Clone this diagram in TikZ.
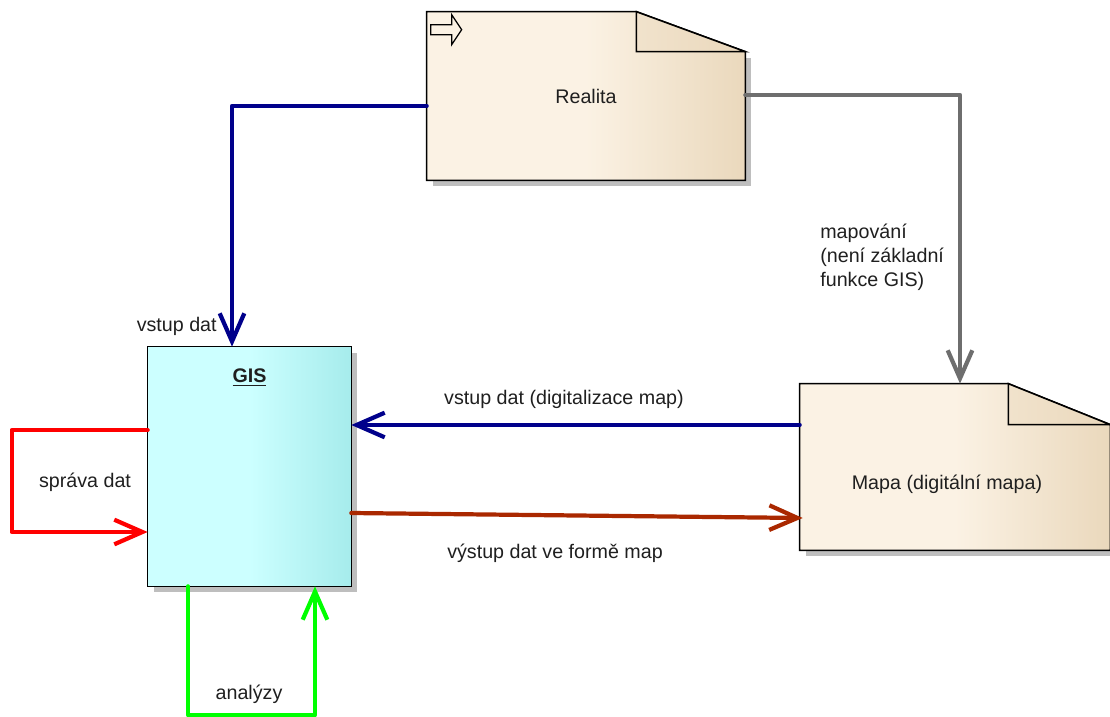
\documentclass[tikz,border=0pt]{standalone}
\usepackage{fontspec}
\setmainfont{Liberation Sans}
\usetikzlibrary{arrows.meta,positioning,calc,backgrounds}

\definecolor{navyline}{RGB}{0,0,139}
\definecolor{grayline}{RGB}{110,110,110}
\definecolor{brownline}{RGB}{170,40,0}
\definecolor{redline}{RGB}{255,0,0}
\definecolor{greenline}{RGB}{0,255,0}
\definecolor{creamleft}{RGB}{251,242,228}
\definecolor{creamright}{RGB}{234,216,188}
\definecolor{cyanleft}{RGB}{204,255,255}
\definecolor{cyanright}{RGB}{166,236,236}
\definecolor{shadowgray}{RGB}{190,190,190}

\begin{document}
\begin{tikzpicture}[x=0.02cm,y=-0.02cm,
    font=\fontsize{11.2}{13.6}\selectfont,
    box/.style={inner sep=0pt, text=black!88},
    lbl/.style={inner sep=0pt, text=black!88},
    conn/.style={line width=2.4pt, line cap=round, line join=round,
      -{Straight Barb[length=16pt,width=14pt]}},
    edge/.style={line width=0.9pt, draw=black}]
  \useasboundingbox (0,0) rectangle (1110,717);

  \node[box, minimum width=6.36cm, minimum height=3.36cm] (realita) at (586,96) {Realita};
  \node[box, minimum width=4.06cm, minimum height=4.78cm] (gis) at (249.5,466.5) {};
  \node[lbl, below=0.43cm of gis.north] (gistitle) {\textbf{\underline{GIS}}};
  \node[box, minimum width=6.2cm, minimum height=3.32cm] (mapa) at (955,467) {};
  \node[lbl] (mapatext) at (947,484) {Mapa (digitální mapa)};

  \begin{scope}[on background layer]
    % shadows
    \fill[shadowgray] ($(realita.north east)+(6,46)$) rectangle ($(realita.south west)+(6,6)$);
    \fill[shadowgray] ($(gis.north east)+(6,6)$) rectangle ($(gis.south west)+(6,6)$);
    \fill[shadowgray] ($(mapa.north east)+(6,47)$) rectangle ($(mapa.south west)+(6,6)$);
    % Realita
    \draw[edge, left color=creamleft, right color=creamright, middle color=creamleft]
      (realita.north west) -- ($(realita.north east)+(-109,0)$) -- ($(realita.north east)+(0,40)$)
      -- (realita.south east) -- (realita.south west) -- cycle;
    \draw[edge, left color=creamleft!40!creamright, right color=creamright]
      ($(realita.north east)+(-109,0)$) -- ($(realita.north east)+(0,40)$) -- ($(realita.north east)+(-109,40)$) -- cycle;
    \draw[line width=0.7pt, fill=creamleft] ($(realita.north west)+(4,13)$) -- ++(21,0) -- ++(0,-10)
      -- ++(10,15) -- ++(-10,15) -- ++(0,-10) -- ++(-21,0) -- cycle;
    % GIS
    \draw[edge, left color=cyanleft, right color=cyanright, middle color=cyanleft]
      (gis.north west) rectangle (gis.south east);
    % Mapa
    \draw[edge, left color=creamleft, right color=creamright, middle color=creamleft]
      (mapa.north west) -- ($(mapa.north east)+(-102,0)$) -- ($(mapa.north east)+(0,41)$)
      -- (mapa.south east) -- (mapa.south west) -- cycle;
    \draw[edge, left color=creamleft!40!creamright, right color=creamright]
      ($(mapa.north east)+(-102,0)$) -- ($(mapa.north east)+(0,41)$) -- ($(mapa.north east)+(-102,41)$) -- cycle;
  \end{scope}

  % connectors
  \draw[conn, navyline] ($(realita.west)+(0,10)$) -| ($(gis.north)+(-17.5,0)$);
  \draw[conn, grayline] ($(realita.east)+(0,-1)$) -| ($(mapa.north)+(5,0)$);
  \draw[conn, navyline] ($(mapa.west)+(0,-42)$) coordinate (digin) -- (gis.east |- digin);
  \draw[conn, brownline] ($(gis.east)+(0,46.5)$) -- ($(mapa.west)+(3,51)$);
  \draw[conn, redline] ($(gis.west)+(0,-36.5)$) -- ++(-136,0) |- ($(gis.west)+(0,65.5)$);
  \draw[conn, greenline] ($(gis.south)+(-61.5,0)$) -- ++(0,129) -| ($(gis.south)+(65.5,0)$);

  % labels
  \node[lbl, anchor=east] (lblvstup) at (217,326) {vstup dat};
  \node[lbl, anchor=west, align=left] (lblmapovani) at (820,257) {mapování\\(není základní\\funkce GIS)};
  \node[lbl] (lbldigit) at (564,399) {vstup dat (digitalizace map)};
  \node[lbl] (lblvystup) at (555,553) {výstup dat ve formě map};
  \node[lbl] (lblsprava) at (85,482) {správa dat};
  \node[lbl] (lblanalyzy) at (249,694) {analýzy};
\end{tikzpicture}
\end{document}
